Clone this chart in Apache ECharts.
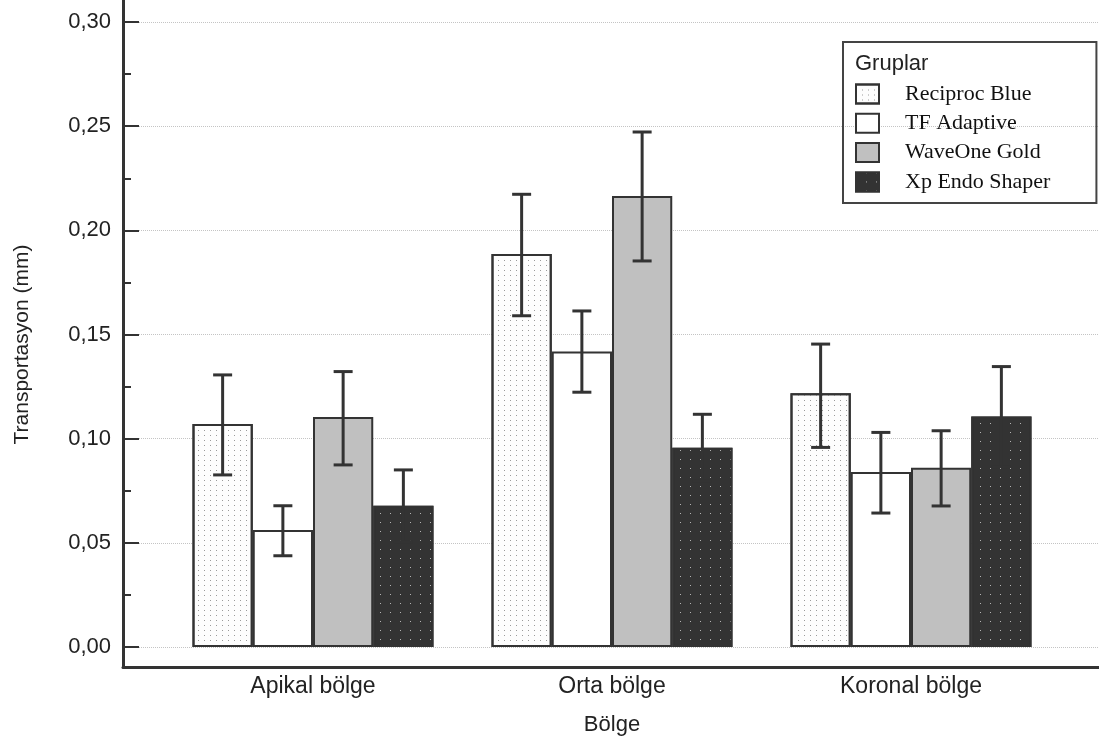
<!DOCTYPE html>
<html>
<head>
<meta charset="utf-8">
<script src="https://cdn.jsdelivr.net/npm/echarts@6/dist/echarts.min.js"></script>
<style>
html,body{margin:0;padding:0;background:#fff;}
#chart{width:1099px;height:749px;}
</style>
</head>
<body>
<div id="chart"></div>
<script>
const categories = ['Apikal bölge', 'Orta bölge', 'Koronal bölge'];
const groups = ['Reciproc Blue', 'TF Adaptive', 'WaveOne Gold', 'Xp Endo Shaper'];
const yTicks = [0, 0.05, 0.10, 0.15, 0.20, 0.25, 0.30];

const reciprocBlue = [0.107, 0.1886, 0.1218];
const tfAdaptive   = [0.0562, 0.1418, 0.084];
const waveOneGold  = [0.1104, 0.2165, 0.086];
const xpEndoShaper = [0.0678, 0.0957, 0.1106];

const reciprocBlueErr = [[0.0826, 0.1306], [0.159, 0.2173], [0.0958, 0.1454]];
const tfAdaptiveErr   = [[0.0438, 0.0678], [0.1223, 0.1613], [0.0643, 0.103]];
const waveOneGoldErr  = [[0.0874, 0.1322], [0.1853, 0.2472], [0.0677, 0.1038]];
const xpEndoShaperErr = [[0.0506, 0.085], [0.0797, 0.1117], [0.0866, 0.1346]];

const values = [reciprocBlue, tfAdaptive, waveOneGold, xpEndoShaper];
const errors = [reciprocBlueErr, tfAdaptiveErr, waveOneGoldErr, xpEndoShaperErr];

const CAT_GAP = 0.194;
const BORDER = '#333333';

const styles = [
  { color: '#fdfdfd', borderColor: BORDER, borderWidth: 2,
    decal: { symbol: 'rect', color: '#9a9a9a', dashArrayX: [1, 5], dashArrayY: [1, 3.5], symbolSize: 1 } },
  { color: '#ffffff', borderColor: BORDER, borderWidth: 2 },
  { color: '#c0c0c0', borderColor: BORDER, borderWidth: 2 },
  { color: '#333333', borderColor: BORDER, borderWidth: 2,
    decal: { symbol: 'rect', color: '#b5b5b5', dashArrayX: [1, 8.5], dashArrayY: [1, 8], symbolSize: 1 } }
];

const series = [];
groups.forEach((g, i) => {
  series.push({
    name: g,
    type: 'bar',
    xAxisIndex: 2,
    yAxisIndex: 2,
    data: values[i],
    barGap: '0%',
    barCategoryGap: (CAT_GAP * 100) + '%',
    itemStyle: styles[i],
    emphasis: { disabled: true },
    z: 2
  });
});

const errData = [];
errors.forEach((arr, s) => {
  arr.forEach((e, c) => { errData.push([c, e[0], e[1], s]); });
});

series.push({
  type: 'custom',
  xAxisIndex: 2,
  yAxisIndex: 2,
  z: 5,
  silent: true,
  data: errData,
  renderItem: function (params, api) {
    const c = api.value(0);
    const s = api.value(3);
    const lo = api.coord([c, api.value(1)]);
    const hi = api.coord([c, api.value(2)]);
    const band = api.size([1, 0])[0];
    const bw = band * (1 - CAT_GAP) / 4;
    const x = lo[0] + (s - 1.5) * bw;
    const cap = 9.5;
    const st = { stroke: '#333333', lineWidth: 3 };
    return {
      type: 'group',
      children: [
        { type: 'line', shape: { x1: x, y1: hi[1], x2: x, y2: lo[1] }, style: st },
        { type: 'line', shape: { x1: x - cap, y1: hi[1], x2: x + cap, y2: hi[1] }, style: st },
        { type: 'line', shape: { x1: x - cap, y1: lo[1], x2: x + cap, y2: lo[1] }, style: st }
      ]
    };
  }
});

const FONT = 'Liberation Sans, Arial, sans-serif';

const option = {
  animation: false,
  backgroundColor: '#ffffff',
  title: {
    text: 'Gruplar',
    left: 855, top: 53, padding: 0,
    textStyle: { fontFamily: FONT, fontSize: 22, fontWeight: 'normal', color: '#222' }
  },
  legend: {
    data: groups,
    orient: 'vertical',
    left: 843, top: 42,
    padding: [41, 46, 10, 12],
    itemWidth: 23, itemHeight: 19, itemGap: 7.3,
    icon: 'rect',
    borderColor: '#444', borderWidth: 2,
    selectedMode: false,
    textStyle: { fontFamily: 'Liberation Serif, Times New Roman, serif', fontSize: 22, color: '#111', padding: [0, 0, 0, 21] }
  },
  grid: [
    { left: 123, right: 0, top: 0, bottom: 82 },
    { left: 123, right: 0, top: 22, bottom: 102 },
    { left: 163.5, right: 38.5, top: 22, bottom: 102 }
  ],
  xAxis: [
    { gridIndex: 0, type: 'value', min: 0, max: 1,
      axisLine: { show: true, onZero: false, lineStyle: { color: '#333', width: 3 } },
      axisTick: { show: false }, axisLabel: { show: false }, splitLine: { show: false } },
    { gridIndex: 1, type: 'value', min: 0, max: 1, show: false },
    { gridIndex: 2, type: 'category', data: categories, offset: 20,
      axisLine: { show: false },
      axisTick: { show: true, inside: true, length: 16, alignWithLabel: true, lineStyle: { color: '#333', width: 2 } },
      axisLabel: { fontFamily: FONT, fontSize: 23, color: '#222', margin: 8 },
      name: 'Bölge', nameLocation: 'middle', nameGap: 46.5,
      nameTextStyle: { fontFamily: FONT, fontSize: 22, color: '#222' } }
  ],
  yAxis: [
    { gridIndex: 0, type: 'value', min: 0, max: 1,
      axisLine: { show: true, onZero: false, lineStyle: { color: '#333', width: 3 } },
      axisTick: { show: false }, axisLabel: { show: false }, splitLine: { show: false } },
    { gridIndex: 1, type: 'value', min: yTicks[0], max: yTicks[yTicks.length - 1], interval: 0.05,
      axisLine: { show: false },
      axisTick: { show: true, inside: true, length: 16, lineStyle: { color: '#333', width: 2 } },
      minorTick: { show: true, splitNumber: 2, length: 8, lineStyle: { color: '#333', width: 2 } },
      axisLabel: { fontFamily: FONT, fontSize: 22, color: '#222', margin: 12,
        formatter: v => v.toFixed(2).replace('.', ',') },
      splitLine: { show: true, lineStyle: { color: '#c4c4c4', type: 'dotted', width: 1 } },
      name: 'Transportasyon (mm)', nameLocation: 'middle', nameGap: 90,
      nameTextStyle: { fontFamily: FONT, fontSize: 21, color: '#222', padding: [0, 20, 0, 0] } },
    { gridIndex: 2, type: 'value', min: 0, max: 0.3, show: false }
  ],
  series: series
};

const chart = echarts.init(document.getElementById('chart'), null, { renderer: 'canvas' });
chart.setOption(option);
</script>
</body>
</html>
